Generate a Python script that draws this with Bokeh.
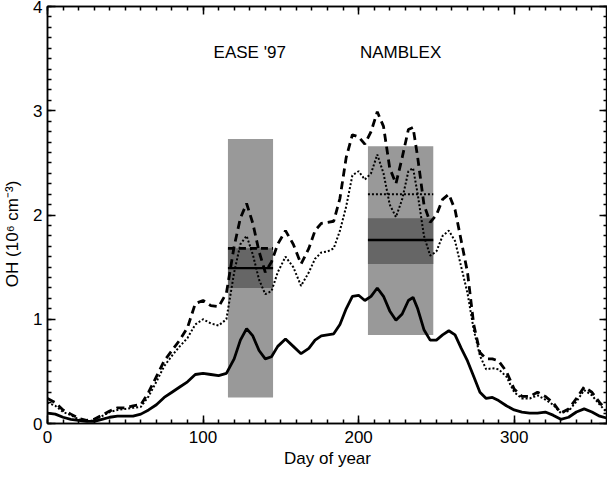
from bokeh.plotting import figure
from bokeh.models import Range1d, LinearAxis, SingleIntervalTicker
from bokeh.core.properties import value
from bokeh.embed import file_html
from bokeh.resources import INLINE

# ---- data ----
days = [0, 5, 10, 15, 20, 25, 30, 35, 40, 45, 50, 55, 60, 65, 70, 75, 80, 85, 90, 95,
        100, 105, 110, 115, 120, 124, 128, 132, 136, 140, 144, 148, 153, 158, 163, 168,
        172, 176, 180, 184, 188, 192, 196, 200, 204, 208, 212, 216, 220, 224, 228, 232,
        235, 238, 242, 246, 250, 254, 258, 262, 266, 270, 274, 278, 282, 286, 290, 295,
        300, 305, 310, 315, 320, 325, 330, 335, 340, 345, 350, 355, 360]

oh_solid = [0.10, 0.09, 0.06, 0.04, 0.03, 0.02, 0.02, 0.04, 0.06, 0.07, 0.07, 0.07, 0.09,
            0.13, 0.18, 0.25, 0.30, 0.35, 0.40, 0.47, 0.48, 0.47, 0.46, 0.48, 0.62, 0.80,
            0.91, 0.84, 0.70, 0.62, 0.64, 0.74, 0.81, 0.74, 0.67, 0.72, 0.80, 0.84, 0.85,
            0.86, 0.95, 1.10, 1.22, 1.23, 1.18, 1.22, 1.30, 1.22, 1.08, 0.99, 1.05, 1.18,
            1.21, 1.10, 0.90, 0.80, 0.80, 0.85, 0.89, 0.85, 0.72, 0.60, 0.45, 0.30, 0.24,
            0.25, 0.22, 0.17, 0.13, 0.11, 0.10, 0.10, 0.11, 0.08, 0.04, 0.06, 0.11, 0.14,
            0.11, 0.07, 0.05]

oh_dashed = [0.24, 0.20, 0.13, 0.09, 0.05, 0.03, 0.04, 0.08, 0.12, 0.15, 0.15, 0.17, 0.18,
             0.30, 0.45, 0.60, 0.70, 0.80, 0.92, 1.15, 1.18, 1.13, 1.12, 1.25, 1.70, 1.97,
             2.11, 1.92, 1.65, 1.45, 1.55, 1.72, 1.85, 1.72, 1.53, 1.68, 1.85, 1.92, 1.93,
             1.94, 2.16, 2.55, 2.77, 2.75, 2.68, 2.80, 2.99, 2.85, 2.45, 2.30, 2.55, 2.82,
             2.84, 2.55, 2.10, 1.93, 2.00, 2.15, 2.20, 2.05, 1.75, 1.45, 0.95, 0.68, 0.62,
             0.62, 0.60, 0.50, 0.33, 0.26, 0.26, 0.30, 0.26, 0.20, 0.10, 0.14, 0.24, 0.35,
             0.30, 0.20, 0.12]

oh_dotted = [0.20, 0.17, 0.11, 0.08, 0.04, 0.02, 0.03, 0.07, 0.11, 0.13, 0.14, 0.15, 0.16,
             0.26, 0.40, 0.55, 0.65, 0.74, 0.82, 0.95, 1.00, 0.96, 0.94, 1.00, 1.45, 1.72,
             1.80, 1.62, 1.38, 1.24, 1.27, 1.45, 1.60, 1.50, 1.32, 1.45, 1.58, 1.64, 1.65,
             1.68, 1.85, 2.08, 2.38, 2.42, 2.34, 2.40, 2.58, 2.40, 2.10, 1.98, 2.15, 2.42,
             2.45, 2.20, 1.80, 1.61, 1.65, 1.80, 1.85, 1.75, 1.50, 1.25, 0.90, 0.65, 0.52,
             0.53, 0.52, 0.45, 0.30, 0.24, 0.24, 0.27, 0.23, 0.18, 0.10, 0.12, 0.21, 0.32,
             0.27, 0.18, 0.10]

campaigns = ["EASE '97", "NAMBLEX"]
camp_start = [116, 206]
camp_end = [145, 248]
camp_low = [0.25, 0.85]          # light grey range
camp_high = [2.73, 2.66]
camp_dark_low = [1.30, 1.53]     # dark grey range
camp_dark_high = [1.68, 1.97]
camp_mean_solid = [1.49, 1.76]
ease_mean_dashed = [1.68]
namblex_mean_dotted = [2.20]
label_day = [130, 227]
label_y = [3.56, 3.56]
y_title = "OH (10⁶ cm⁻³)"

FONT = "Liberation Sans"

p = figure(output_backend="svg", toolbar_location=None,
           frame_width=560, frame_height=417,
           x_range=Range1d(0, 360), y_range=Range1d(0, 4),
           min_border_left=46, min_border_right=0, min_border_top=6, min_border_bottom=38,
           background_fill_color="white", border_fill_color="white")
p.grid.visible = False
p.outline_line_color = "black"
p.outline_line_width = 1.5

# campaign boxes
p.quad(left=camp_start, right=camp_end, bottom=camp_low, top=camp_high,
       fill_color="#999999", line_color=None)
p.quad(left=camp_start, right=camp_end, bottom=camp_dark_low, top=camp_dark_high,
       fill_color="#666666", line_color=None)

# mean lines
p.segment(x0=camp_start, x1=camp_end, y0=camp_mean_solid, y1=camp_mean_solid,
          line_color="black", line_width=2.4)
p.segment(x0=camp_start[:1], x1=camp_end[:1], y0=ease_mean_dashed, y1=ease_mean_dashed,
          line_color="black", line_width=2.6, line_dash="7 4")
p.segment(x0=camp_start[1:], x1=camp_end[1:], y0=namblex_mean_dotted, y1=namblex_mean_dotted,
          line_color="black", line_width=2, line_dash="2 2")

# curves
p.line(days, oh_solid, line_color="black", line_width=2.8)
p.line(days, oh_dashed, line_color="black", line_width=2.8, line_dash="8 5")
p.line(days, oh_dotted, line_color="black", line_width=2, line_dash="2 2")

# campaign labels
p.text(x=label_day, y=label_y, text=campaigns, text_align="center", text_baseline="middle",
       text_font=value(FONT), text_font_size="17px", text_color="black")

def style_axis(ax, labels=True):
    ax.axis_line_color = "black"
    ax.axis_line_width = 1.5
    ax.major_tick_in = 8
    ax.major_tick_out = 0
    ax.minor_tick_in = 4
    ax.minor_tick_out = 0
    ax.major_tick_line_color = "black"
    ax.minor_tick_line_color = "black"
    ax.major_tick_line_width = 1.5
    ax.minor_tick_line_width = 1.5
    if labels:
        ax.major_label_text_font = FONT
        ax.major_label_text_font_size = "17px"
        ax.major_label_text_color = "black"
        ax.axis_label_text_font = FONT
        ax.axis_label_text_font_size = "17px"
        ax.axis_label_text_font_style = "normal"
        ax.axis_label_text_color = "black"
    else:
        ax.major_label_text_font_size = "0px"
        ax.major_label_standoff = 0

xa = p.xaxis[0]
xa.ticker = SingleIntervalTicker(interval=100, num_minor_ticks=10)
xa.axis_label = "Day of year"
style_axis(xa)
xa.major_label_standoff = 7
xa.axis_label_standoff = 3

ya = p.yaxis[0]
ya.ticker = SingleIntervalTicker(interval=1, num_minor_ticks=10)
# trailing no-break spaces nudge the visible title a little below the axis middle
ya.axis_label = y_title + "\u00a0" * 8
style_axis(ya)
ya.major_label_standoff = 5
ya.axis_label_standoff = 8

top = LinearAxis(ticker=SingleIntervalTicker(interval=100, num_minor_ticks=10))
style_axis(top, labels=False)
p.add_layout(top, "above")
right = LinearAxis(ticker=SingleIntervalTicker(interval=1, num_minor_ticks=10))
style_axis(right, labels=False)
p.add_layout(right, "right")

open("out.html", "w").write(file_html(p, INLINE))
